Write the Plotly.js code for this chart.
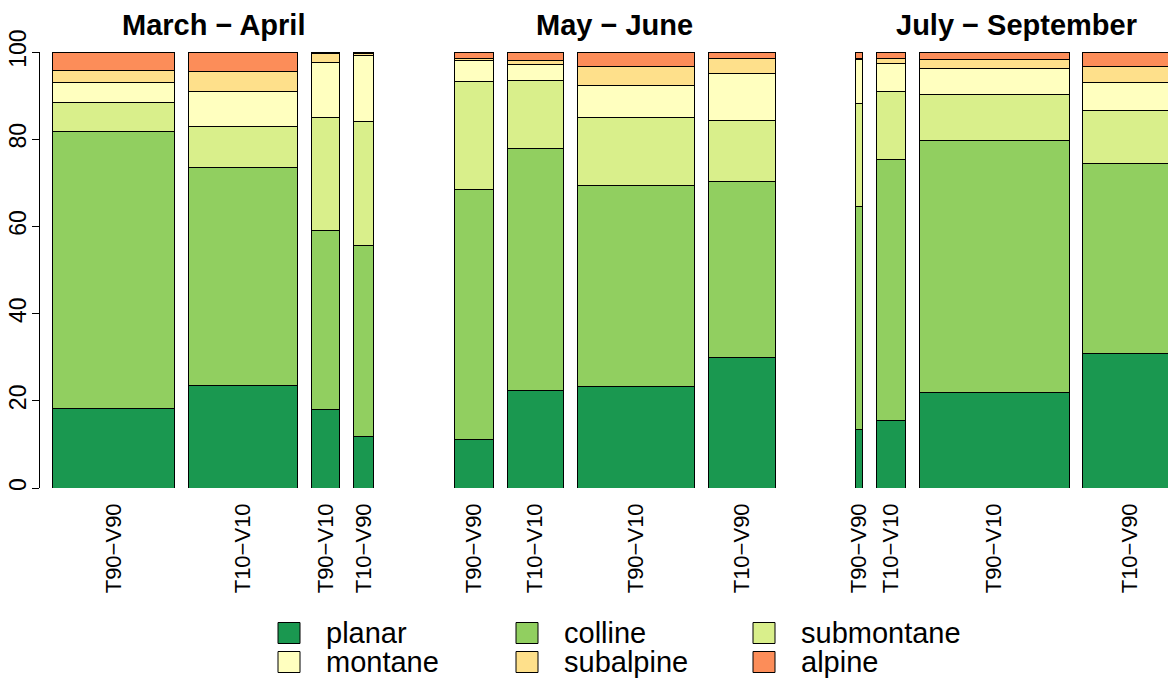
<!DOCTYPE html>
<html>
<head>
<meta charset="utf-8">
<script src="https://cdn.plot.ly/plotly-3.0.1.min.js"></script>
<style>html,body{margin:0;padding:0;background:#fff;}</style>
</head>
<body>
<div id="chart" style="width:1168px;height:680px;"></div>
<script>
// ---- data ----
const periods = ["March \u2212 April", "May \u2212 June", "July \u2212 September"];
const treatments = ["T90\u2212V90", "T10\u2212V10", "T90\u2212V10", "T10\u2212V90"];
// relative bar widths within each period (share of samples)
const widthsMarApr = [0.4355, 0.392, 0.099, 0.074];
const widthsMayJun = [0.141, 0.199, 0.422, 0.238];
const widthsJulSep = [0.026, 0.1025, 0.536, 0.3355];

const seriesNames = ["planar", "colline", "submontane", "montane", "subalpine", "alpine"];
const seriesColors = ["#1A9850", "#91CF60", "#D9EF8B", "#FFFFBF", "#FEE08B", "#FC8D59"];
// percentages per bar: Mar-Apr (4), May-Jun (4), Jul-Sep (4)
const planar     = [18.3, 23.5, 17.9, 11.7, 11.2, 22.3, 23.3, 29.85, 13.35, 15.4, 22.0, 30.9];
const colline    = [63.5, 50.1, 41.1, 43.9, 57.2, 55.5, 46.0, 40.45, 51.25, 59.9, 57.7, 43.45];
const submontane = [6.7, 9.3, 26.0, 28.4, 24.8, 15.65, 15.6, 14.0, 23.5, 15.7, 10.6, 12.25];
const montane    = [4.5, 8.0, 12.6, 15.3, 4.9, 3.65, 7.45, 10.75, 10.2, 6.3, 6.0, 6.5];
const subalpine  = [2.7, 4.65, 2.1, 0.4, 0.4, 1.0, 4.35, 3.5, 0.2, 1.1, 2.0, 3.65];
const alpine     = [4.3, 4.4, 0.3, 0.3, 1.5, 1.9, 3.3, 1.45, 1.5, 1.6, 1.7, 3.25];

// ---- layout of bars (positions derived from widths) ----
const groupWidths = [widthsMarApr, widthsMayJun, widthsJulSep];
const gap = 0.05, groupGap = 0.2875;
const centers = [], widths = [], labels = [], groupCenters = [];
let pos = 0;
groupWidths.forEach((ws, g) => {
  const start = pos;
  ws.forEach((w, i) => {
    centers.push(pos + w / 2);
    widths.push(w);
    labels.push(treatments[i]);
    pos += w + (i < ws.length - 1 ? gap : 0);
  });
  groupCenters.push((start + pos) / 2);
  pos += groupGap;
});

const allSeries = [planar, colline, submontane, montane, subalpine, alpine];
const traces = allSeries.map((vals, k) => ({
  type: "bar",
  name: seriesNames[k],
  x: centers,
  y: vals,
  width: widths,
  marker: { color: seriesColors[k], line: { color: "#000", width: 1 } },
  showlegend: false,
  hoverinfo: "name+y"
}));

const W = 1168, H = 680, ML = 40, MR = 0, MT = 52, MB = 192;
const PW = W - ML - MR, PH = H - MT - MB;
const px2x = p => (p - ML) / PW;
const py2y = p => (H - MB - p) / PH;

const FONT = "Liberation Sans, Arial, Helvetica, sans-serif";
const annotations = periods.map((p, g) => ({
  text: p, x: groupCenters[g], xref: "x", y: py2y(25), yref: "paper",
  xanchor: "center", yanchor: "middle", showarrow: false,
  font: { family: FONT, size: 29, color: "#000", weight: "bold" }
}));

// manual legend (3 columns x 2 rows)
const shapes = [];
const colLeft = [278, 516, 753];
const rowCenter = [633, 662];
seriesNames.forEach((nm, k) => {
  const col = k % 3, row = Math.floor(k / 3);
  const bx = colLeft[col], cy = rowCenter[row];
  shapes.push({
    type: "rect", xref: "paper", yref: "paper",
    x0: px2x(bx), x1: px2x(bx + 22), y0: py2y(cy + 10.5), y1: py2y(cy - 10.5),
    fillcolor: seriesColors[k], line: { color: "#000", width: 1 }
  });
  annotations.push({
    text: nm, xref: "paper", yref: "paper", x: px2x(bx + 46), y: py2y(cy),
    xanchor: "left", yanchor: "middle", showarrow: false,
    font: { family: FONT, size: 29, color: "#000" }
  });
});

const layout = {
  width: W, height: H,
  margin: { l: ML, r: MR, t: MT, b: MB, pad: 0 },
  paper_bgcolor: "#fff", plot_bgcolor: "#fff",
  barmode: "stack",
  font: { family: FONT, color: "#000" },
  xaxis: {
    range: [-0.0455, 3.9945], showgrid: false, zeroline: false, showline: false,
    ticks: "", tickmode: "array", tickvals: centers, ticktext: labels,
    tickangle: -90, tickfont: { family: FONT, size: 22, color: "#000" },
    ticklabelstandoff: 10
  },
  yaxis: {
    range: [0, 100], showgrid: false, zeroline: false, showline: true,
    linecolor: "#000", linewidth: 1, ticks: "outside", ticklen: 7, tickwidth: 1,
    tickcolor: "#000", tickmode: "array", tickvals: [0, 20, 40, 60, 80, 100],
    tickangle: -90, tickfont: { family: FONT, size: 23, color: "#000" },
    ticklabelstandoff: -3
  },
  annotations: annotations,
  shapes: shapes
};

Plotly.newPlot("chart", traces, layout, { displayModeBar: false, staticPlot: true });
</script>
</body>
</html>
